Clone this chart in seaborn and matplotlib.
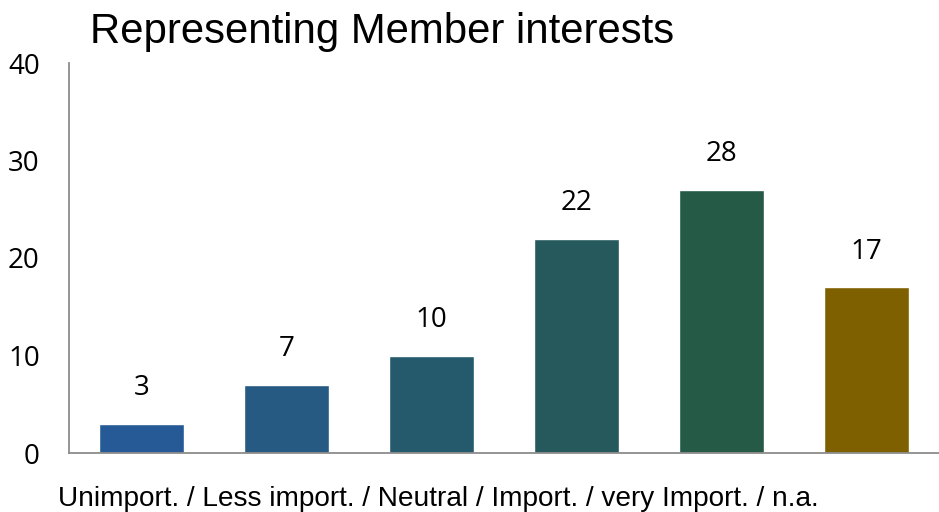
import matplotlib
matplotlib.use("Agg")
import matplotlib.pyplot as plt
import seaborn as sns
import pandas as pd

# values (bar heights) and the printed labels
categories = ["Unimport.", "Less import.", "Neutral", "Import.", "very Import.", "n.a."]
bar_values = [3, 7, 10, 22, 27, 17]
bar_labels = ["3", "7", "10", "22", "28", "17"]
bar_colors = ["#265A96", "#265A83", "#255A6D", "#25595C", "#255A47", "#7F6000"]
y_ticks = [0, 10, 20, 30, 40]

df = pd.DataFrame({"category": categories, "value": bar_values})

sns.set_style("white")
plt.rcParams["text.color"] = "black"
plt.rcParams["ytick.color"] = "black"

num_kw = dict(family=["Open Sans", "DejaVu Sans"], fontsize=20, fontweight="normal")
txt_font = ["Liberation Sans", "DejaVu Sans"]

fig = plt.figure(figsize=(9.39, 5.12), dpi=100)
ax = fig.add_axes([69 / 939, 59 / 512, 870 / 939, 390 / 512])

sns.barplot(data=df, x="category", y="value", hue="category",
            palette=bar_colors, width=0.58, legend=False, ax=ax, saturation=1)

for i, (v, lab) in enumerate(zip(bar_values, bar_labels)):
    ax.annotate(lab, (i, v), xytext=(0, 15.5), textcoords="offset points",
                ha="center", va="bottom", color="black", **num_kw)

ax.set_xlim(-0.5, 5.5)
ax.set_ylim(0, 40)
ax.set_yticks(y_ticks)
ax.set_yticklabels([str(t) for t in y_ticks], color="black", **num_kw)
ax.set_xticks([])
ax.tick_params(axis="y", length=0, pad=21)
ax.set_ylabel("")
ax.set_xlabel("Unimport. / Less import. / Neutral / Import. / very Import. / n.a.",
              family=txt_font, fontsize=20.2, color="black")
ax.xaxis.set_label_coords(-11 / 870, -53 / 390)
ax.xaxis.label.set_ha("left")
ax.xaxis.label.set_va("baseline")

for side in ["top", "right"]:
    ax.spines[side].set_visible(False)
for side in ["left", "bottom"]:
    ax.spines[side].set_color("#8C8C8C")
    ax.spines[side].set_linewidth(1.3)

fig.text(90 / 939, 1 - 43 / 512, "Representing Member interests", family=txt_font,
         fontsize=30.2, ha="left", va="baseline", color="black")

fig.savefig("out.png", dpi=100)
